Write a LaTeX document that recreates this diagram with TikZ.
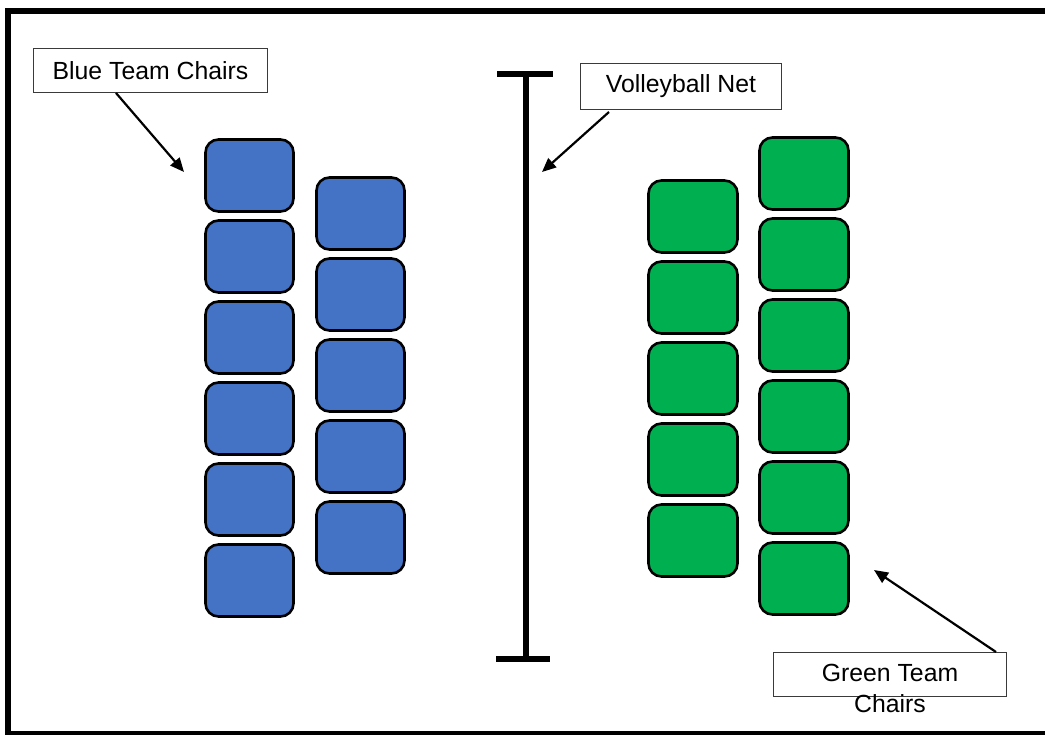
\documentclass[tikz,border=0pt]{standalone}
\usepackage{fontspec}
\setmainfont{Liberation Sans}
\usetikzlibrary{arrows.meta}
\definecolor{teamblue}{HTML}{4472C4}
\definecolor{teamgreen}{HTML}{00B050}
\definecolor{boxline}{HTML}{3A3A3A}
\begin{document}
\begin{tikzpicture}[x=1pt,y=-1pt,
  chair/.style={draw=black,line width=2.6pt,rounded corners=13pt,minimum width=88pt,minimum height=72pt,inner sep=0pt},
  bluechair/.style={chair,fill=teamblue},
  greenchair/.style={chair,fill=teamgreen,minimum width=89pt},
  labelbox/.style={draw=boxline,line width=1.3pt,fill=white,inner sep=0pt,font=\fontsize{24.8}{31}\selectfont},
  arr/.style={draw=black,line width=2.2pt,-{Triangle[length=14pt,width=12pt]}},
  netpost/.style={line width=6pt,draw=black},
  netbar/.style={line width=5.5pt,draw=black}
]
\useasboundingbox (0,0) rectangle (1045,735);
\begin{scope}
\clip (0,0) rectangle (1045,735);
\fill[white] (0,0) rectangle (1045,735);
\draw[line width=6pt,black] (8,11) rectangle (1060,734);
\end{scope}

% Blue chairs
\foreach \i in {1,...,6}{
  \node[bluechair] (bl\i) at (249.5,{175.5+81*(\i-1)}) {};
}
\foreach \i in {1,...,5}{
  \node[bluechair] (br\i) at (360.5,{213.5+81*(\i-1)}) {};
}
% Green chairs
\foreach \i in {1,...,5}{
  \node[greenchair] (gl\i) at (693,{216.5+81*(\i-1)}) {};
}
\foreach \i in {1,...,6}{
  \node[greenchair] (gr\i) at (804,{173.5+81*(\i-1)}) {};
}

% Volleyball net
\coordinate (nettop) at (526,74);
\coordinate (netbot) at (526,659);
\draw[netpost] (nettop) -- (netbot);
\draw[netbar] (497,74) -- (553,74);
\draw[netbar] (496,659) -- (550,659);

% Labels
\node[labelbox,minimum width=234pt,minimum height=44pt] (bbox) at (150.5,70.5) {Blue Team Chairs};
\node[labelbox,minimum width=201pt,minimum height=46pt] (vbox) at (681,86.5) {Volleyball Net};
\node[labelbox,minimum width=233pt,minimum height=44pt] (gbox) at (890,674.5) {};
\node[inner sep=0pt,align=center,anchor=north,font=\fontsize{24.8}{31}\selectfont] (gtext) at (890,664) {Green Team\\Chairs};

% Arrows
\coordinate (ba) at (116,93);
\coordinate (bt) at (184,172);
\coordinate (va) at (609,112);
\coordinate (vt) at (542,172);
\coordinate (ga) at (996,652);
\coordinate (gt) at (874,570);
\draw[arr] (ba) -- (bt);
\draw[arr] (va) -- (vt);
\draw[arr] (ga) -- (gt);
\end{tikzpicture}
\end{document}
